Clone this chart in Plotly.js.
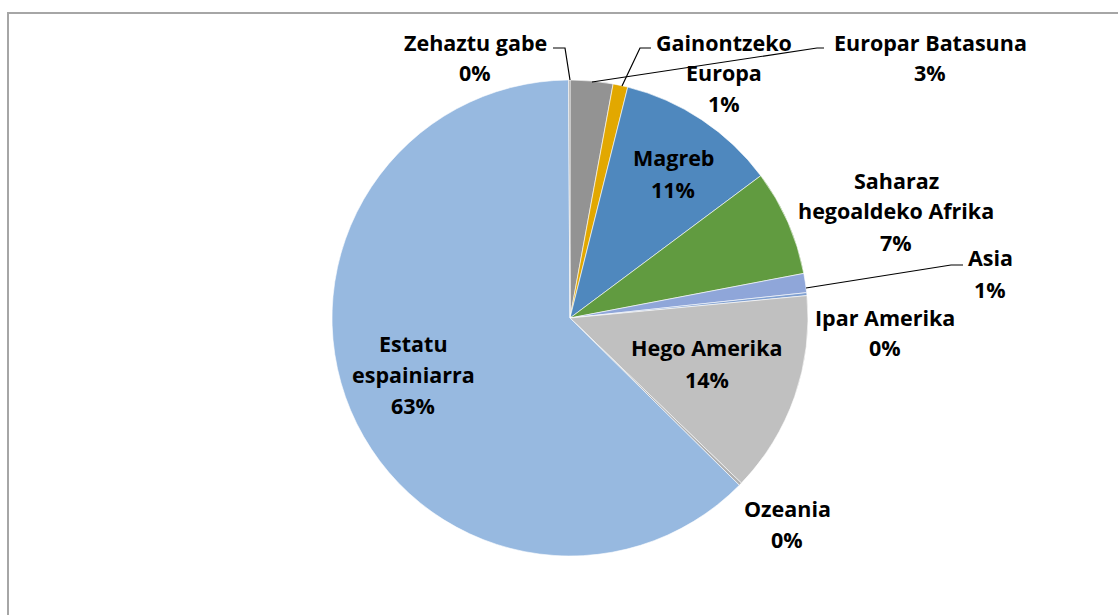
<!DOCTYPE html>
<html>
<head>
<meta charset="utf-8">
<script src="https://cdn.plot.ly/plotly-3.0.1.min.js"></script>
<style>html,body{margin:0;padding:0;background:#fff;}#chart{width:1118px;height:615px;}</style>
</head>
<body>
<div id="chart"></div>
<script>
// ---- data ----
const labels = ["Europar Batasuna", "Gainontzeko Europa", "Magreb", "Saharaz hegoaldeko Afrika", "Asia", "Ipar Amerika", "Hego Amerika", "Ozeania", "Estatu espainiarra", "Zehaztu gabe"];
const values = [29, 10, 109, 72, 13, 2, 137, 2, 625, 1];
const colors = ["#939393", "#E2A800", "#4F88BE", "#619B40", "#8FA6D9", "#7F9FD0", "#C0C0C0", "#B0B0B0", "#97B9E0", "#A0A0A0"];

// ---- layout helpers (pixel -> paper) ----
const W = 1118, H = 615;
const px = x => x / W;
const py = y => 1 - y / H;

// label placement: center x, y of first line, number of words on first line (0 = no wrap)
const placement = [
  {x: 930, y: 42, split: 0},
  {x: 724, y: 42, split: 1},
  {x: 673, y: 158, split: 0},
  {x: 896, y: 180, split: 1},
  {x: 990, y: 258, split: 0},
  {x: 885, y: 317, split: 0},
  {x: 707, y: 348, split: 0},
  {x: 787, y: 508, split: 0},
  {x: 413, y: 343, split: 1},
  {x: 475, y: 42, split: 0}
];
const lineGap = 31;
const leaders = {
  0: [[824, 48], [817, 48], [592, 82]],
  1: [[651, 48], [640, 48], [622, 86]],
  4: [[963, 265], [951, 265], [806, 288]],
  9: [[553, 48], [565, 48], [570, 80]]
};

const total = values.reduce((a, b) => a + b, 0);
const annotations = [];
labels.forEach((lab, i) => {
  const p = placement[i];
  const words = lab.split(" ");
  let lines = p.split ? [words.slice(0, p.split).join(" "), words.slice(p.split).join(" ")] : [lab];
  lines.push(Math.round(values[i] / total * 100) + "%");
  lines.forEach((t, k) => {
    annotations.push({
      text: t, x: px(p.x), y: py(p.y + k * lineGap), xref: "paper", yref: "paper",
      xanchor: "center", yanchor: "middle", showarrow: false,
      font: {family: "'Open Sans', sans-serif", size: 21.5, color: "#000", weight: "bold"}
    });
  });
});

const shapes = [{
  type: "rect", xref: "paper", yref: "paper",
  x0: px(8), x1: px(1130), y0: py(630), y1: py(13),
  line: {color: "#A6A6A6", width: 2}, fillcolor: "rgba(0,0,0,0)"
}];
Object.values(leaders).forEach(pts => {
  const path = pts.map((q, k) => (k ? "L" : "M") + px(q[0]) + "," + py(q[1])).join(" ");
  shapes.push({type: "path", xref: "paper", yref: "paper", path: path, line: {color: "#000", width: 1.2}});
});

const trace = {
  type: "pie",
  labels: labels,
  values: values,
  sort: false,
  direction: "clockwise",
  rotation: 0,
  textinfo: "none",
  hoverinfo: "label+percent",
  marker: {colors: colors, line: {color: "#ffffff", width: 0.6}},
  domain: {x: [px(332), px(808)], y: [py(556), py(80)]},
  showlegend: false
};

Plotly.newPlot("chart", [trace], {
  width: W, height: H,
  margin: {l: 0, r: 0, t: 0, b: 0},
  paper_bgcolor: "#ffffff",
  showlegend: false,
  annotations: annotations,
  shapes: shapes
}, {displayModeBar: false, staticPlot: true});
</script>
</body>
</html>
